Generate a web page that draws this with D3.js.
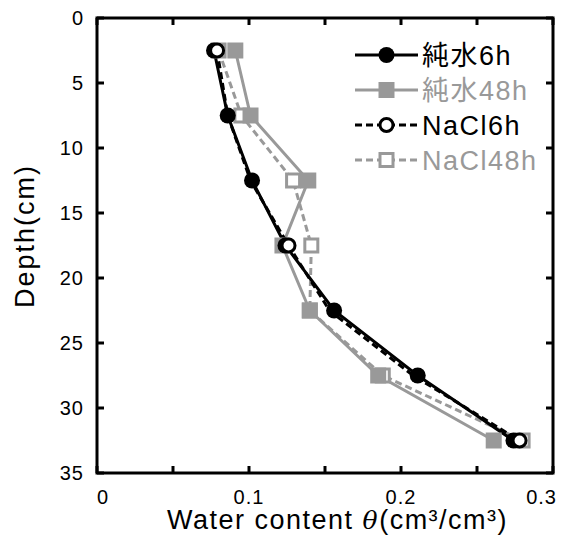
<!DOCTYPE html>
<html>
<head>
<meta charset="utf-8">
<script src="https://cdn.jsdelivr.net/npm/d3@7"></script>
<style>
  body { margin:0; background:#fff; }
  text { font-family: "Liberation Sans", Arial, "Noto Sans CJK JP", sans-serif; }
</style>
</head>
<body>
<div id="chart"></div>
<script>
// depth of each sample (cm)
var depths = [2.5, 7.5, 12.5, 17.5, 22.5, 27.5, 32.5];
// water content (cm3/cm3)
var pure6h   = [0.077, 0.086, 0.102, 0.124, 0.156, 0.211, 0.274];
var pure48h  = [0.091, 0.101, 0.139, 0.122, 0.140, 0.185, 0.261];
var nacl6h   = [0.079, 0.086, 0.101, 0.126, 0.153, 0.208, 0.278];
var nacl48h  = [0.080, 0.095, 0.129, 0.141, 0.140, 0.188, 0.280];
// NaCl6h markers that are visible (the others sit under the 純水6h dots)
var nacl6hShown = [1, 0, 0, 1, 0, 0, 1];
var seriesNames = ["純水6h", "純水48h", "NaCl6h", "NaCl48h"];
var xTicks = [0, 0.05, 0.1, 0.15, 0.2, 0.25, 0.3];
var xLabels = [0, 0.1, 0.2, 0.3];
var yTicks = [0, 5, 10, 15, 20, 25, 30, 35];

var W = 565, H = 538;
var margin = {top: 18, right: 12, bottom: 65, left: 97};
var width = W - margin.left - margin.right,
    height = H - margin.top - margin.bottom;

var svg = d3.select("#chart").append("svg")
    .attr("width", W).attr("height", H);

var g = svg.append("g").attr("transform", "translate(" + margin.left + "," + margin.top + ")");

var x = d3.scaleLinear().domain([0, 0.3]).range([0, width]);
var y = d3.scaleLinear().domain([0, 35]).range([0, height]);

var gray = "#999999";

// drawing order (back to front)
var series = [
  {name: seriesNames[3], vals: nacl48h, color: gray, shape: "square", open: true, dash: "7,4"},
  {name: seriesNames[1], vals: pure48h, color: gray, shape: "square", open: false, dash: null},
  {name: seriesNames[0], vals: pure6h, color: "#000", shape: "circle", open: false, dash: null},
  {name: seriesNames[2], vals: nacl6h, color: "#000", shape: "circle", open: true, dash: "7,4", shown: nacl6hShown}
];

function drawMarker(sel, s, cx, cy) {
  if (s.shape == "circle") {
    sel.append("circle").attr("cx", cx).attr("cy", cy)
      .attr("r", s.open ? 6.5 : 8)
      .attr("fill", s.open ? "#fff" : s.color)
      .attr("stroke", s.color).attr("stroke-width", s.open ? 3 : 0);
  } else {
    var sz = s.open ? 13 : 16;
    sel.append("rect").attr("x", cx - sz/2).attr("y", cy - sz/2)
      .attr("width", sz).attr("height", sz)
      .attr("fill", s.open ? "#fff" : s.color)
      .attr("stroke", s.color).attr("stroke-width", s.open ? 3 : 0);
  }
}

var line = d3.line()
  .x(function(d) { return x(d.v); })
  .y(function(d) { return y(d.d); });

series.forEach(function(s) {
  var data = depths.map(function(d, i) { return {d: d, v: s.vals[i]}; });
  g.append("path").datum(data)
    .attr("fill", "none")
    .attr("stroke", s.color)
    .attr("stroke-width", 3)
    .attr("stroke-dasharray", s.dash)
    .attr("d", line);
});
series.forEach(function(s) {
  var mg = g.append("g");
  depths.forEach(function(d, i) {
    if (s.shown && !s.shown[i]) return;
    drawMarker(mg, s, x(s.vals[i]), y(d));
  });
});

// frame
g.append("rect").attr("width", width).attr("height", height)
  .attr("fill", "none").attr("stroke", "#000").attr("stroke-width", 3);

// inward ticks
var tl = 7;
xTicks.forEach(function(t) {
  g.append("line").attr("x1", x(t)).attr("x2", x(t)).attr("y1", height).attr("y2", height - tl)
    .attr("stroke", "#000").attr("stroke-width", 3);
  g.append("line").attr("x1", x(t)).attr("x2", x(t)).attr("y1", 0).attr("y2", tl)
    .attr("stroke", "#000").attr("stroke-width", 3);
});
yTicks.forEach(function(t) {
  g.append("line").attr("x1", 0).attr("x2", tl).attr("y1", y(t)).attr("y2", y(t))
    .attr("stroke", "#000").attr("stroke-width", 3);
  g.append("line").attr("x1", width).attr("x2", width - tl).attr("y1", y(t)).attr("y2", y(t))
    .attr("stroke", "#000").attr("stroke-width", 3);
});

// tick labels (first one starts at the axis, last one ends at the frame)
g.selectAll(".xl").data(xLabels).enter().append("text")
  .attr("x", function(d, i) { return i == xLabels.length - 1 ? x(d) + 4 : x(d); })
  .attr("y", height + 31)
  .attr("text-anchor", function(d, i) { return i == 0 ? "start" : (i == xLabels.length - 1 ? "end" : "middle"); })
  .style("font-size", "20px")
  .style("letter-spacing", "1px")
  .text(function(d) { return d; });

g.selectAll(".yl").data(yTicks).enter().append("text")
  .attr("x", -13)
  .attr("y", function(d) { return y(d); })
  .attr("dy", "0.35em")
  .attr("text-anchor", "end")
  .style("font-size", "20px")
  .style("letter-spacing", "1px")
  .text(function(d) { return d; });

// axis titles
var xt = svg.append("text")
  .attr("x", 167)
  .attr("y", 529)
  .style("font-size", "27px")
  .style("letter-spacing", "1.5px");
xt.append("tspan").text("Water content ");
xt.append("tspan").style("font-style", "italic").style("font-family", "'DejaVu Serif', serif").style("font-size", "25px").text("θ");
xt.append("tspan").text("(cm³/cm³)");

svg.append("text")
  .attr("transform", "translate(34," + 236 + ") rotate(-90)")
  .attr("text-anchor", "middle")
  .style("font-size", "27px")
  .style("letter-spacing", "2px")
  .text("Depth(cm)");

// legend
var legOrder = [2, 1, 3, 0];
var lx0 = 355, lx1 = 418, ly0 = 55, lstep = 35;
legOrder.forEach(function(k, i) {
  var s = series[k];
  var ly = ly0 + i * lstep;
  svg.append("line").attr("x1", lx0).attr("x2", lx1).attr("y1", ly).attr("y2", ly)
    .attr("stroke", s.color).attr("stroke-width", 3).attr("stroke-dasharray", s.dash);
  drawMarker(svg, s, (lx0 + lx1) / 2, ly);
  svg.append("text").attr("x", lx1 + 4).attr("y", ly).attr("dy", "0.36em")
    .style("font-size", "27px").style("letter-spacing", "1.5px").attr("fill", s.color)
    .text(s.name);
});
</script>
</body>
</html>
